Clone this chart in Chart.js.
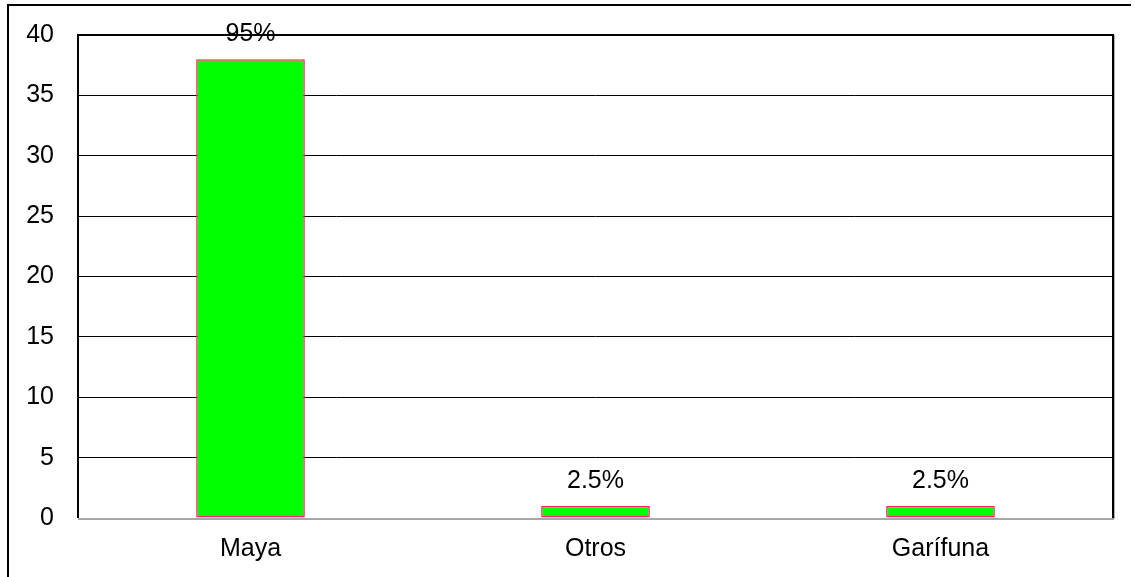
<!DOCTYPE html>
<html>
<head>
<meta charset="utf-8">
<script src="https://cdn.jsdelivr.net/npm/chart.js@4/dist/chart.umd.min.js"></script>
<style>
html,body{margin:0;padding:0;background:#fff;}
#wrap{width:1135px;height:577px;position:relative;}
</style>
</head>
<body>
<div id="wrap"><canvas id="c" width="1135" height="577"></canvas></div>
<script>
const categories = ["Maya", "Otros", "Garífuna"];
const values = [38, 1, 1];
const percentLabels = ["95%", "2.5%", "2.5%"];
const yTicks = [0, 5, 10, 15, 20, 25, 30, 35, 40];

const FONT = "'Liberation Sans', Arial, sans-serif";
const FS = 25;

const decor = {
  id: 'decor',
  beforeDraw(chart) {
    const ctx = chart.ctx;
    ctx.save();
    ctx.fillStyle = '#fff';
    ctx.fillRect(0, 0, chart.width, chart.height);
    ctx.strokeStyle = '#000';
    ctx.lineWidth = 2;
    ctx.beginPath();
    ctx.moveTo(8, 577);
    ctx.lineTo(8, 5);
    ctx.lineTo(1131, 5);
    ctx.stroke();
    ctx.restore();
  },
  afterDatasetsDraw(chart) {
    const ctx = chart.ctx;
    const a = chart.chartArea;
    ctx.save();
    ctx.strokeStyle = '#000';
    ctx.lineWidth = 2;
    ctx.beginPath();
    ctx.moveTo(a.left, a.bottom);
    ctx.lineTo(a.left, a.top);
    ctx.lineTo(a.right, a.top);
    ctx.lineTo(a.right, a.bottom);
    ctx.stroke();
    ctx.strokeStyle = '#b0b0b0';
    ctx.lineWidth = 1;
    ctx.beginPath();
    ctx.moveTo(a.right + 1.5, a.top);
    ctx.lineTo(a.right + 1.5, a.bottom + 1);
    ctx.stroke();
    ctx.strokeStyle = '#a8a8a8';
    ctx.lineWidth = 2;
    ctx.beginPath();
    ctx.moveTo(a.left, a.bottom + 1);
    ctx.lineTo(a.right + 1, a.bottom + 1);
    ctx.stroke();
    const meta = chart.getDatasetMeta(0);
    ctx.fillStyle = '#000';
    ctx.font = FS + 'px ' + FONT;
    ctx.textAlign = 'center';
    ctx.textBaseline = 'middle';
    meta.data.forEach((bar, i) => {
      ctx.fillText(percentLabels[i], bar.x, bar.y - 25);
    });
    ctx.restore();
  }
};

new Chart(document.getElementById('c'), {
  type: 'bar',
  data: {
    labels: categories,
    datasets: [{
      data: values,
      backgroundColor: '#00ff00',
      borderColor: '#ff1f6e',
      borderWidth: 1.5,
      borderSkipped: false,
      categoryPercentage: 1,
      barPercentage: 0.315
    }]
  },
  options: {
    responsive: false,
    animation: false,
    devicePixelRatio: 1,
    layout: { padding: { left: 0, right: 22, top: 35, bottom: 0 } },
    plugins: { legend: { display: false }, tooltip: { enabled: false } },
    scales: {
      x: {
        grid: { display: false, drawTicks: false },
        border: { display: false },
        ticks: { color: '#000', font: { family: FONT, size: FS }, padding: 16 },
        afterFit(s) { s.height = 59; s.paddingLeft = 0; s.paddingRight = 0; }
      },
      y: {
        min: 0, max: 40,
        afterBuildTicks(s) { s.ticks = yTicks.map(v => ({ value: v })); },
        grid: { color: '#000', lineWidth: 1, drawTicks: false },
        border: { display: false },
        ticks: { color: '#000', font: { family: FONT, size: FS }, padding: 24 },
        afterFit(s) { s.width = 78; s.paddingTop = 0; s.paddingBottom = 0; }
      }
    }
  },
  plugins: [decor]
});
</script>
</body>
</html>
